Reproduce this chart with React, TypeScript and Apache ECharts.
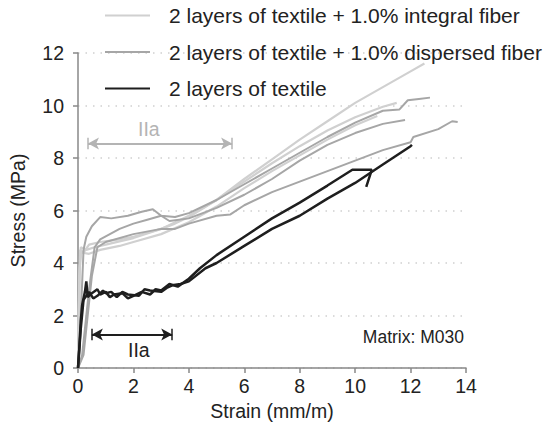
import React, { useEffect, useRef } from "react";
import * as echarts from "echarts";

const xTicks = [0, 2, 4, 6, 8, 10, 12, 14];
const yTicks = [0, 2, 4, 6, 8, 10, 12];

const legendNames = [
  "2 layers of textile + 1.0% integral fiber",
  "2 layers of textile + 1.0% dispersed fiber",
  "2 layers of textile",
];

// integral fiber curves (light gray)
const integral1: number[][] = [
  [0, 0], [0.04, 3], [0.08, 4.5], [0.2, 4.4], [0.4, 4.7], [0.8, 4.8], [1.5, 4.9], [2, 5.0], [2.5, 5.15],
  [3, 5.3], [3.5, 5.5], [4, 5.75], [5, 6.4], [6, 7.2], [7, 7.95], [8, 8.7], [9, 9.4], [10, 10.1],
  [11, 10.7], [12, 11.3], [12.5, 11.6],
];
const integral2: number[][] = [
  [0, 0], [0.05, 3.5], [0.1, 4.6], [0.3, 4.5], [0.6, 4.6], [1, 4.7], [2, 4.95], [3, 5.3], [4, 5.8],
  [5, 6.4], [6, 7.1], [7, 7.8], [8, 8.45], [9, 9.05], [10, 9.55], [11, 9.95], [11.5, 10.1],
];
const integral3: number[][] = [
  [0, 0], [0.06, 3.8], [0.12, 4.4], [0.4, 4.35], [0.8, 4.5], [1.5, 4.65], [2, 4.8], [3, 5.1], [4, 5.55],
  [5, 6.15], [6, 6.85], [7, 7.5], [8, 8.1], [9, 8.7], [10, 9.25], [10.8, 9.6],
];
// dispersed fiber curves (medium gray)
const dispersed1: number[][] = [
  [0, 0], [0.1, 2], [0.2, 4.5], [0.3, 5.0], [0.5, 5.4], [0.8, 5.75], [1.2, 5.7], [1.8, 5.8], [2.3, 5.95],
  [2.7, 6.05], [3, 5.8], [3.5, 5.75], [4, 5.9], [5, 6.4], [6, 7.0], [7, 7.6], [8, 8.2], [9, 8.8],
  [10, 9.35], [11, 9.8], [11.6, 9.85], [11.9, 10.2], [12.3, 10.25], [12.7, 10.3],
];
const dispersed2: number[][] = [
  [0, 0], [0.15, 0.5], [0.4, 3], [0.6, 4.6], [0.8, 4.9], [1.5, 5.3], [2, 5.5], [2.5, 5.65], [3, 5.8],
  [3.3, 5.6], [4, 5.7], [5, 6.1], [6, 6.6], [7, 7.2], [8, 7.9], [9, 8.5], [10, 8.95], [11, 9.3], [11.8, 9.45],
];
const dispersed3: number[][] = [
  [0, 0], [0.2, 0.5], [0.5, 3.5], [0.7, 4.6], [1, 4.8], [2, 5.1], [3, 5.3], [3.5, 5.3], [4, 5.5],
  [5, 5.8], [5.5, 5.85], [6, 6.2], [7, 6.7], [8, 7.1], [9, 7.5], [10, 7.9], [11, 8.3], [12, 8.6],
  [12.1, 8.8], [13, 9.1], [13.5, 9.4], [13.7, 9.37],
];
// textile only curves (black)
const textile1: number[][] = [
  [0, 0], [0.05, 0.8], [0.1, 1.8], [0.15, 2.4], [0.25, 2.9], [0.3, 3.3], [0.35, 2.7], [0.5, 2.85],
  [0.7, 3.0], [0.8, 2.8], [1, 2.9], [1.15, 2.7], [1.3, 2.8], [1.6, 2.85], [1.8, 2.65], [2, 2.75],
  [2.3, 2.9], [2.6, 2.8], [2.8, 3.0], [3, 2.95], [3.3, 3.2], [3.6, 3.1], [4, 3.4], [4.4, 3.8], [5, 4.3],
  [6, 5.0], [7, 5.7], [8, 6.3], [9, 6.95], [9.9, 7.55], [10.6, 7.55], [10.4, 6.9],
];
const textile2: number[][] = [
  [0, 0], [0.1, 1.5], [0.2, 2.6], [0.4, 2.9], [0.55, 2.65], [0.7, 2.75], [0.9, 2.95], [1, 2.85],
  [1.2, 2.9], [1.4, 2.7], [1.6, 2.9], [1.8, 2.8], [2.2, 2.75], [2.4, 3.0], [2.6, 2.95], [3, 2.9],
  [3.2, 3.05], [3.4, 3.15], [3.7, 3.2], [4, 3.3], [4.6, 3.8], [5, 4.0], [6, 4.65], [7, 5.3], [8, 5.8],
  [9, 6.45], [10, 7.05], [11, 7.75], [12, 8.45], [12.05, 8.5],
];

// "IIa" ranges: [strainStart, strainEnd, stress]
const rangeGray = [0.36, 5.56, 8.55];
const rangeBlack = [0.5, 3.4, 1.28];

const LIGHT = "#d0d0d0";
const MEDIUM = "#a6a6a6";
const DARK = "#1e1e1e";
const FONT = "Liberation Sans, Arial, sans-serif";
const FS = 19.5;

export default function App() {
  const ref = useRef<HTMLDivElement>(null);
  useEffect(() => {
    if (!ref.current) return;
    const chart = echarts.init(ref.current, null, { renderer: "svg" });
    const mk = (name: string, data: number[][], color: string, width: number) => ({
      type: "line",
      name,
      data,
      showSymbol: false,
      symbol: "none",
      lineStyle: { color, width },
      itemStyle: { color },
      z: color === DARK ? 3 : 2,
    });
    const bar = (x: number, y: number, color: string) => [
      { coord: [x, y - 0.22], lineStyle: { color, width: 1.5, type: "solid" } },
      { coord: [x, y + 0.22] },
    ];
    chart.setOption({
      animation: false,
      textStyle: { fontFamily: FONT },
      grid: { left: 78, right: 84, top: 53, bottom: 65 },
      legend: {
        data: legendNames,
        orient: "vertical",
        left: 105,
        top: 5,
        padding: 0,
        itemWidth: 45,
        itemHeight: 2,
        itemGap: 15.5,
        icon: "rect",
        textStyle: { fontSize: 21, color: "#222", fontFamily: FONT, padding: [0, 0, 0, 14] },
      },
      xAxis: {
        type: "value",
        min: 0,
        max: 14,
        interval: 2,
        name: "Strain (mm/m)",
        nameLocation: "middle",
        nameGap: 32,
        nameTextStyle: { fontSize: FS, color: "#222" },
        axisLine: { lineStyle: { color: "#888", width: 1.5 } },
        axisTick: { show: true, length: 5, lineStyle: { color: "#888", width: 1.5 } },
        axisLabel: { fontSize: FS, color: "#222", margin: 8 },
        splitLine: { show: false },
      },
      yAxis: {
        type: "value",
        min: 0,
        max: 12,
        interval: 2,
        name: "Stress (MPa)",
        nameLocation: "middle",
        nameGap: 50,
        nameTextStyle: { fontSize: FS, color: "#222" },
        axisLine: { show: true, lineStyle: { color: "#888", width: 1.5 } },
        axisTick: { show: true, length: 5, lineStyle: { color: "#888", width: 1.5 } },
        axisLabel: { fontSize: FS, color: "#222", margin: 14 },
        splitLine: { show: true, lineStyle: { color: "#cfcfcf", width: 1.5, type: [1.5, 6] } },
      },
      series: [
        mk(legendNames[0], integral1, LIGHT, 2.2),
        mk(legendNames[0], integral2, LIGHT, 2.2),
        mk(legendNames[0], integral3, LIGHT, 2.2),
        mk(legendNames[1], dispersed1, MEDIUM, 2),
        mk(legendNames[1], dispersed2, MEDIUM, 2),
        mk(legendNames[1], dispersed3, MEDIUM, 2),
        mk(legendNames[2], textile1, DARK, 2.5),
        mk(legendNames[2], textile2, DARK, 2.5),
        {
          type: "line",
          name: "arrows",
          data: [],
          markLine: {
            silent: true,
            symbol: ["arrow", "arrow"],
            symbolSize: [9, 11],
            label: { show: false },
            data: [
              [
                { coord: [rangeGray[0], rangeGray[2]], lineStyle: { color: "#b4b4b4", width: 1.8, type: "solid" }, itemStyle: { color: "#b4b4b4" } },
                { coord: [rangeGray[1], rangeGray[2]] },
              ],
              [
                { coord: [rangeBlack[0], rangeBlack[2]], lineStyle: { color: DARK, width: 1.8, type: "solid" }, itemStyle: { color: DARK } },
                { coord: [rangeBlack[1], rangeBlack[2]] },
              ],
            ],
          },
        },
        {
          type: "line",
          name: "bars",
          data: [],
          markLine: {
            silent: true,
            symbol: ["none", "none"],
            label: { show: false },
            data: [
              bar(rangeGray[0], rangeGray[2], "#b4b4b4"),
              bar(rangeGray[1], rangeGray[2], "#b4b4b4"),
              bar(rangeBlack[0], rangeBlack[2], DARK),
              bar(rangeBlack[1], rangeBlack[2], DARK),
            ],
          },
        },
      ],
      graphic: [
        { type: "text", left: 138, top: 119, style: { text: "IIa", fontSize: FS, fill: "#b4b4b4", fontFamily: FONT } },
        { type: "text", left: 128, top: 340, style: { text: "IIa", fontSize: FS, fill: "#222", fontFamily: FONT } },
        { type: "text", right: 86, top: 328, style: { text: "Matrix: M030", fontSize: 17.5, fill: "#222", fontFamily: FONT } },
      ],
    });
    return () => chart.dispose();
  }, []);
  return <div ref={ref} style={{ position: "absolute", left: 0, top: 0, width: 550, height: 433 }} />;
}
